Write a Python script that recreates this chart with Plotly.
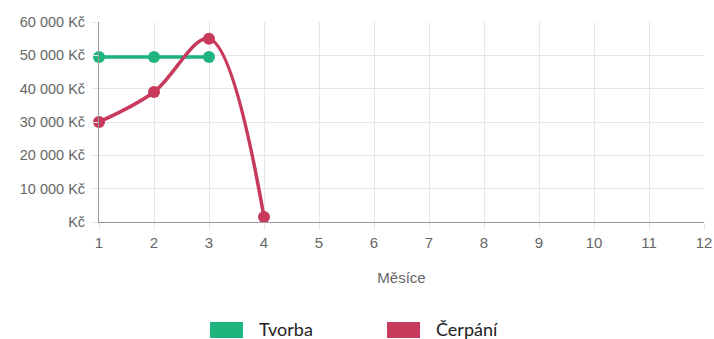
import plotly.graph_objects as go

# Monthly values (CZK)
months_tvorba = [1, 2, 3]
tvorba = [49500, 49500, 49500]
months_cerpani = [1, 2, 3, 4]
cerpani = [30000, 39000, 55000, 1500]

x_ticks = list(range(1, 13))
y_ticks = [0, 10000, 20000, 30000, 40000, 50000, 60000]
y_labels = ["Kč", "10 000 Kč", "20 000 Kč", "30 000 Kč", "40 000 Kč", "50 000 Kč", "60 000 Kč"]

series_names = ["Tvorba", "Čerpání"]
green = "#1db47e"
red = "#c73a5c"
grid = "#e6e6e6"
text_grey = "#666666"

fig = go.Figure()
fig.add_trace(go.Scatter(
    x=months_tvorba, y=tvorba, name=series_names[0], mode="lines+markers",
    line=dict(color=green, width=3.5),
    marker=dict(size=12, color=green), cliponaxis=False,
))
fig.add_trace(go.Scatter(
    x=months_cerpani, y=cerpani, name=series_names[1], mode="lines+markers",
    line=dict(color=red, width=3.5, shape="spline", smoothing=1.0),
    marker=dict(size=12, color=red), cliponaxis=False,
))

fig.update_layout(
    width=714, height=339,
    margin=dict(l=99, r=10, t=22, b=117),
    plot_bgcolor="white", paper_bgcolor="white",
    showlegend=False,
    font=dict(family="Liberation Sans, Arial, sans-serif", color=text_grey),
)
fig.update_xaxes(
    range=[1, 12], tickvals=x_ticks, showgrid=True, gridcolor=grid, gridwidth=1,
    zeroline=False, showline=True, linecolor="#9a9a9a", linewidth=1,
    ticks="outside", ticklen=7, tickcolor=grid, automargin=False,
    tickfont=dict(size=15, color=text_grey),
    title=dict(text="Měsíce", font=dict(size=15, color=text_grey), standoff=22),
)
fig.update_yaxes(
    range=[0, 60000], tickvals=y_ticks, ticktext=y_labels,
    showgrid=True, gridcolor=grid, gridwidth=1,
    zeroline=False, showline=True, linecolor="#9a9a9a", linewidth=1,
    ticks="outside", ticklen=7, tickcolor=grid, automargin=False,
    ticklabelstandoff=3,
    tickfont=dict(size=14.5, color=text_grey),
)

# Legend drawn as wide colour boxes with labels below the plot
legend_items = [(210, green, series_names[0]), (387, red, series_names[1])]
for x0, color, label in legend_items:
    fig.add_shape(type="rect", xref="paper", yref="paper",
                  x0=(x0 - 99) / 605, x1=(x0 + 33 - 99) / 605,
                  y0=-(322 - 222) / 200, y1=-(322 - 222 + 16) / 200,
                  fillcolor=color, line=dict(width=0))
    fig.add_annotation(xref="paper", yref="paper",
                       x=(x0 + 47 - 99) / 605, y=-(329 - 222) / 200,
                       text=label, showarrow=False, xanchor="left", yanchor="middle",
                       font=dict(size=18, color="#222222", family="Lato, sans-serif"))

fig.write_html("out.html")
